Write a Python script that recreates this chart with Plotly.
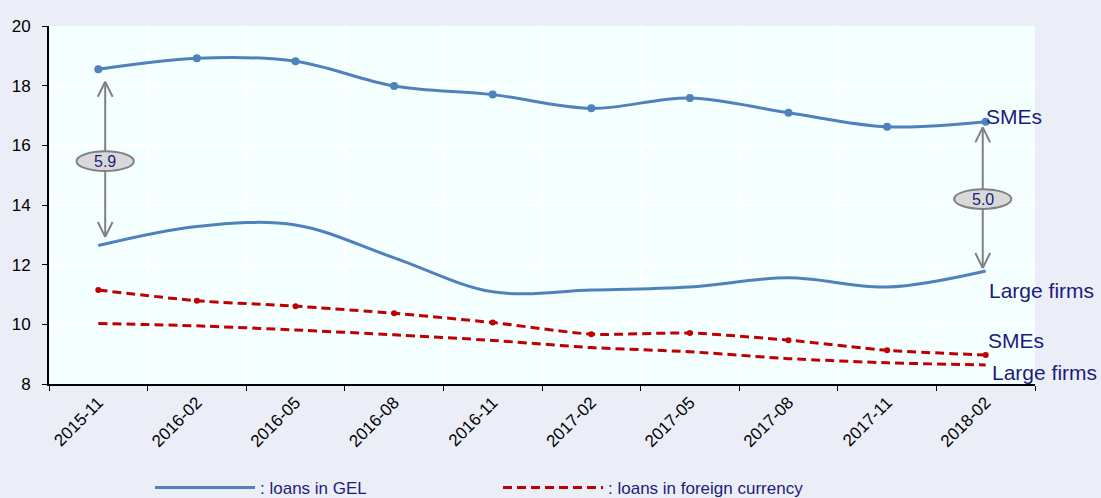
import plotly.graph_objects as go

periods = ["2015-11", "2016-02", "2016-05", "2016-08", "2016-11",
           "2017-02", "2017-05", "2017-08", "2017-11", "2018-02"]
sme_gel = [18.55, 18.92, 18.82, 17.99, 17.70, 17.24, 17.59, 17.09, 16.62, 16.79]
large_gel = [12.64, 13.28, 13.33, 12.23, 11.09, 11.15, 11.25, 11.56, 11.25, 11.79]
sme_fx = [11.15, 10.79, 10.61, 10.37, 10.06, 9.67, 9.71, 9.47, 9.13, 8.97]
large_fx = [10.03, 9.95, 9.81, 9.65, 9.46, 9.22, 9.08, 8.85, 8.71, 8.64]
gap_labels = ["5.9", "5.0"]
series_labels = ["SMEs", "Large firms", "SMEs", "Large firms"]
legend_names = [": loans in GEL", ": loans in foreign currency"]

BLUE = "#4F81BD"
RED = "#C00000"
NAVY = "#1C1C7C"
GREY = "#808080"
FONT = "Liberation Sans, Arial, sans-serif"

fig = go.Figure()
fig.add_trace(go.Scatter(x=periods, y=sme_gel, mode="lines+markers",
                         line=dict(color=BLUE, width=3, shape="spline", smoothing=1),
                         marker=dict(size=8, color=BLUE), showlegend=False))
fig.add_trace(go.Scatter(x=periods, y=large_gel, mode="lines", name=legend_names[0],
                         line=dict(color=BLUE, width=3, shape="spline", smoothing=1)))
fig.add_trace(go.Scatter(x=periods, y=sme_fx, mode="lines+markers",
                         line=dict(color=RED, width=3, dash="9px,5px", shape="spline", smoothing=0.6),
                         marker=dict(size=6, color=RED), showlegend=False))
fig.add_trace(go.Scatter(x=periods, y=large_fx, mode="lines", name=legend_names[1],
                         line=dict(color=RED, width=3, dash="9px,5px", shape="spline", smoothing=0.6)))

shapes = []
annotations = []
# gap arrows
arrow_specs = [(0, 0.07, 0.42, 0.29, 15.47), (len(periods) - 1, -0.03, 0.19, 0.10, 14.20)]
for (idx, dx, dtop, dbot, yc), lab in zip(arrow_specs, gap_labels):
    xc = idx + dx
    top = sme_gel[idx] - dtop
    bot = large_gel[idx] + dbot
    ln = dict(color=GREY, width=2)
    shapes.append(dict(type="line", xref="x", yref="y", x0=xc, x1=xc, y0=top, y1=bot, line=ln))
    for s in (-1, 1):
        shapes.append(dict(type="line", xref="x", yref="y", x0=xc + s * 0.075, y0=top - 0.5,
                           x1=xc, y1=top, line=ln))
        shapes.append(dict(type="line", xref="x", yref="y", x0=xc + s * 0.075, y0=bot + 0.5,
                           x1=xc, y1=bot, line=ln))
    shapes.append(dict(type="circle", xref="x", yref="y", x0=xc - 0.29, x1=xc + 0.29,
                       y0=yc - 0.33, y1=yc + 0.33, fillcolor="#D9D9D9",
                       line=dict(color=GREY, width=2)))
    annotations.append(dict(x=xc, y=yc, xref="x", yref="y", text=lab, showarrow=False,
                            font=dict(family=FONT, size=16, color=NAVY)))

last = len(periods) - 1
label_pos = [(sme_gel[last] + 0.19, 0), (large_gel[last] - 0.64, 3),
             (sme_fx[last] + 0.5, 2), (large_fx[last] - 0.27, 6)]
for (yv, xs), lab in zip(label_pos, series_labels):
    annotations.append(dict(x=last, y=yv, xref="x", yref="y", text=lab, showarrow=False,
                            xanchor="left", yanchor="middle", xshift=xs - 2,
                            font=dict(family=FONT, size=21, color=NAVY)))

fig.update_layout(
    width=1101, height=498,
    margin=dict(l=46, r=66, t=26, b=114),
    paper_bgcolor="#EBEEF6",
    plot_bgcolor="#F4FFFF",
    font=dict(family=FONT, size=16, color="black"),
    shapes=shapes,
    annotations=annotations,
    legend=dict(orientation="h", xref="container", yref="container",
                x=150 / 1101, y=10 / 498, xanchor="left", yanchor="middle",
                itemwidth=100, entrywidth=233, entrywidthmode="pixels",
                font=dict(family=FONT, size=17, color=NAVY),
                bgcolor="rgba(0,0,0,0)", traceorder="normal"),
    xaxis=dict(type="category", tickson="boundaries", showgrid=True, gridcolor="white",
               gridwidth=2, showline=True, linecolor="black", linewidth=2,
               ticks="outside", ticklen=5, tickcolor="black", tickangle=-45,
               tickfont=dict(size=17, color="black"), range=[-0.5, 9.5]),
    yaxis=dict(range=[8, 20], dtick=2, showgrid=True, gridcolor="white", gridwidth=2,
               showline=True, linecolor="black", linewidth=2, ticks="outside",
               ticklen=5, tickcolor="black", zeroline=False, ticklabelstandoff=8,
               tickfont=dict(size=17, color="black")),
)

fig.write_html("out.html")
